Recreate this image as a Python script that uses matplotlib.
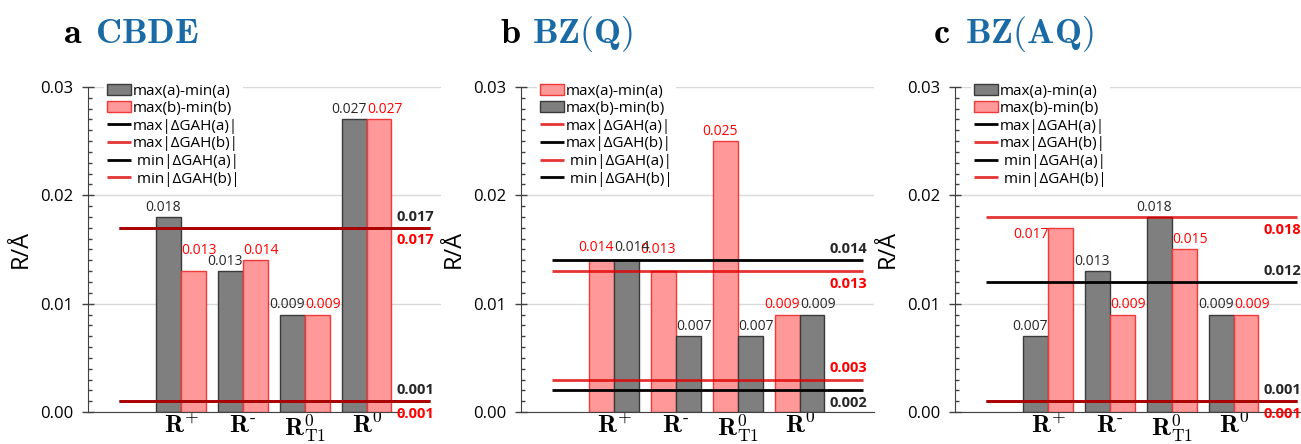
import matplotlib
matplotlib.use("Agg")
import matplotlib.pyplot as plt
from matplotlib.ticker import MultipleLocator, FormatStrFormatter

plt.rcParams['font.family'] = ['Open Sans', 'DejaVu Sans']
plt.rcParams['mathtext.fontset'] = 'cm'

# categories
cats = [r'$\mathbf{R}^{+}$', r'$\mathbf{R}^{\text{-}}$', r'$\mathbf{R}^{0}_{\mathrm{T1}}$', r'$\mathbf{R}^{0}$']

# panel titles
letters = ['a', 'b', 'c']
names = ['CBDE', 'BZ(Q)', 'BZ(AQ)']

# bar series (a) and (b) per panel
bars_a = [
    [0.018, 0.013, 0.009, 0.027],
    [0.014, 0.013, 0.025, 0.009],
    [0.007, 0.013, 0.018, 0.009],
]
bars_b = [
    [0.013, 0.014, 0.009, 0.027],
    [0.014, 0.007, 0.007, 0.009],
    [0.017, 0.009, 0.015, 0.009],
]
# max|dGAH| and min|dGAH| for (a) and (b)
max_a = [0.017, 0.013, 0.012]
max_b = [0.017, 0.014, 0.018]
min_a = [0.001, 0.003, 0.001]
min_b = [0.001, 0.002, 0.001]

# in panel b the colours of a and b are swapped
a_is_red = [False, True, False]
# which side of its line each value label sits (max_a, max_b, min_a, min_b)
sides = [
    [1, -1, 1, -1],
    [-1, 1, 1, -1],
    [1, -1, 1, -1],
]
# hand nudges of a few bar labels (panel, series, category) -> points
nudge = {(0, 'b', 0): (0, 8), (2, 'b', 0): (-25, -12),
         (1, 'a', 0): (0, 2), (1, 'b', 0): (0, 2), (1, 'a', 1): (0, 9)}

# colours
grey = "#7f7f7f"
grey_edge = "#3a3a3a"
pink = "#ff9999"
pink_edge = "#f03a3a"
red = "#e00000"
blue = "#1a6aa5"

W, H = 1301, 444
fig = plt.figure(figsize=(W / 100, H / 100), dpi=100)

lefts = [88, 521, 955]
title_x = [(63, 95), (500, 532), (933, 965)]
sb_right = [4.55, None, None]

for i in range(3):
    ax = fig.add_axes([lefts[i] / W, 32 / H, 353 / W, 325 / H])
    x = [1, 2, 3, 4]
    if a_is_red[i]:
        ca, ea, cb, eb = pink, pink_edge, grey, grey_edge
        la, lb = red, 'black'
    else:
        ca, ea, cb, eb = grey, grey_edge, pink, pink_edge
        la, lb = 'black', red

    ba = ax.bar([v - 0.2 for v in x], bars_a[i], 0.4, color=ca, edgecolor=ea,
                linewidth=1, label='max(a)-min(a)', zorder=2)
    bb = ax.bar([v + 0.2 for v in x], bars_b[i], 0.4, color=cb, edgecolor=eb,
                linewidth=1, label='max(b)-min(b)', zorder=2)
    for s, rects, vals, c, dx in [('a', ba, bars_a[i], la, -4), ('b', bb, bars_b[i], lb, 4)]:
        for k, (rect, v) in enumerate(zip(rects, vals)):
            ndx, ndy = nudge.get((i, s, k), (0, 0))
            ax.annotate('%.3f' % v, (rect.get_x() + rect.get_width() / 2, v),
                        xytext=(dx + ndx, 1.5 + ndy), textcoords='offset points',
                        ha='center', va='bottom', fontsize=10,
                        color=('red' if c == red else '#262626'), zorder=5)

    def hl(y, c, lab):
        if c == red:
            return ax.hlines(y, 0, 5.03, colors=c, linewidth=2.0, alpha=0.8,
                             label=lab, zorder=4)
        return ax.hlines(y, 0, 5.03, colors=c, linewidth=2.0, label=lab, zorder=3)

    h1 = hl(max_a[i], la, 'max|ΔGAH(a)|')
    h2 = hl(max_b[i], lb, 'max|ΔGAH(b)|')
    h3 = hl(min_a[i], la, ' min|ΔGAH(a)|')
    h4 = hl(min_b[i], lb, ' min|ΔGAH(b)|')

    for yv, c, sd in zip([max_a[i], max_b[i], min_a[i], min_b[i]],
                         [la, lb, la, lb], sides[i]):
        ax.annotate('%.3f' % yv, (5.09, yv), xytext=(0, 3 if sd > 0 else -4),
                    textcoords='offset points', ha='right',
                    va=('bottom' if sd > 0 else 'top'),
                    fontsize=10.5, fontweight='bold',
                    color=('red' if c == red else '#262626'),
                    annotation_clip=False)

    ax.set_xlim(-0.5, 5.2)
    ax.set_ylim(0, 0.03)
    ax.set_xticks(x)
    ax.set_xticklabels(cats, fontsize=18)
    ax.tick_params(axis='x', length=0, pad=1)
    ax.yaxis.set_major_locator(MultipleLocator(0.01))
    ax.yaxis.set_minor_locator(MultipleLocator(0.001))
    ax.yaxis.set_major_formatter(FormatStrFormatter('%.2f'))
    ax.tick_params(axis='y', which='major', direction='inout', length=9,
                   width=1, color='#404040', labelsize=12, pad=6)
    ax.tick_params(axis='y', which='minor', direction='in', length=3,
                   width=1, color='#404040')
    ax.grid(axis='y', color='#d9d9d9', linewidth=1, zorder=0)
    ax.set_axisbelow(True)
    for s in ['top', 'right']:
        ax.spines[s].set_visible(False)
    for s in ['left', 'bottom']:
        ax.spines[s].set_color('#404040')
    if sb_right[i] is not None:
        ax.spines['bottom'].set_bounds(-0.5, sb_right[i])
    ax.set_ylabel('R/Å', fontsize=17)
    ax.yaxis.set_label_coords(-55 / 353, 0.5)

    leg = ax.legend([ba, bb, h1, h2, h3, h4],
                    ['max(a)-min(a)', 'max(b)-min(b)', 'max|ΔGAH(a)|',
                     'max|ΔGAH(b)|', ' min|ΔGAH(a)|', ' min|ΔGAH(b)|'],
                    loc='upper left', bbox_to_anchor=(0.045, 1.02), fontsize=11,
                    frameon=True, framealpha=1, edgecolor='white', fancybox=False,
                    handlelength=1.6, handletextpad=0.1, labelspacing=0.17,
                    borderpad=0.2, borderaxespad=0)
    leg.get_frame().set_linewidth(0)

    fig.text(title_x[i][0] / W, 1 - 43 / H, r'$\mathbf{%s}$' % letters[i],
             fontsize=26, color='black', va='baseline', ha='left')
    fig.text(title_x[i][1] / W, 1 - 43 / H, r'$\mathbf{%s}$' % names[i],
             fontsize=26, color=blue, va='baseline', ha='left')

fig.savefig("out.png", dpi=100)
